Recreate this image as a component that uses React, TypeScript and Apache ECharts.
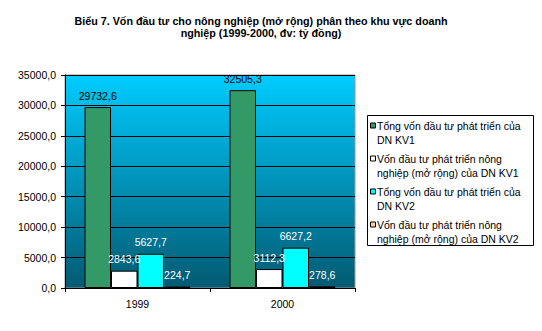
import React, { useEffect, useRef } from "react";
import * as echarts from "echarts";

const categories = ["1999", "2000"];
const seriesNames = [
  "Tổng vốn đầu tư phát triển của DN KV1",
  "Vốn đầu tư phát triển nông nghiệp (mở rộng) của DN KV1",
  "Tổng vốn đầu tư phát triển của DN KV2",
  "Vốn đầu tư phát triển nông nghiệp (mở rộng) của DN KV2",
];
const legendLines = [
  ["Tổng vốn đầu tư phát triển của", "DN KV1"],
  ["Vốn đầu tư phát triển nông", "nghiệp (mở rộng) của DN KV1"],
  ["Tổng vốn đầu tư phát triển của", "DN KV2"],
  ["Vốn đầu tư phát triển nông", "nghiệp (mở rộng) của DN KV2"],
];
const totalKV1 = [29732.6, 32505.3];
const agriKV1 = [2843.6, 3112.3];
const totalKV2 = [5627.7, 6627.2];
const agriKV2 = [224.7, 278.6];
const seriesValues = [totalKV1, agriKV1, totalKV2, agriKV2];
const colors = ["#339966", "#FFFFFF", "#00FFFF", "#FFCC99"];
const labelColors = ["#000000", "#FFFFFF", "#FFFFFF", "#FFFFFF"];
const titleLines = [
  "Biểu 7. Vốn đầu tư cho nông nghiệp (mở rộng) phân theo khu vực doanh",
  "nghiệp (1999-2000, đv: tỷ đồng)",
];

const FONT = "Liberation Sans, Arial, sans-serif";
const fmt = (v: number) => v.toFixed(1).replace(".", ",");

export default function App() {
  const ref = useRef<HTMLDivElement>(null);
  useEffect(() => {
    document.body.style.margin = "0";
    if (!ref.current) return;
    const chart = echarts.init(ref.current, null, { renderer: "svg" });
    const legendX = 367;
    const legendY = 115;
    const legendGraphics: any[] = [
      {
        type: "rect",
        shape: { x: legendX + 0.5, y: legendY + 0.5, width: 166, height: 130 },
        style: { fill: "#fff", stroke: "#000", lineWidth: 1 },
      },
    ];
    legendLines.forEach((lines, i) => {
      const y0 = 126 + i * 33;
      legendGraphics.push({
        type: "rect",
        shape: { x: 370.5, y: y0 - 3, width: 5, height: 5 },
        style: { fill: colors[i], stroke: "#000", lineWidth: 1 },
      });
      legendGraphics.push({
        type: "text",
        x: 377,
        y: y0 - 6.5,
        style: {
          text: lines.join("\n"),
          font: `10.5px ${FONT}`,
          lineHeight: 13.5,
          fill: "#000",
          textAlign: "left",
          textVerticalAlign: "top",
        },
      });
    });
    chart.setOption({
      animation: false,
      textStyle: { fontFamily: FONT },
      grid: {
        left: 65,
        right: 187,
        top: 75,
        bottom: 43,
        show: true,
        borderColor: "#999",
        borderWidth: 1,
        backgroundColor: new echarts.graphic.LinearGradient(0, 0, 0, 1, [
          { offset: 0, color: "#00CCFF" },
          { offset: 1, color: "#035A72" },
        ]),
      },
      graphic: [
        {
          type: "text",
          x: 261,
          y: 15.5,
          style: {
            text: titleLines.join("\n"),
            font: `bold 10.75px ${FONT}`,
            lineHeight: 11.5,
            fill: "#000",
            textAlign: "center",
            textVerticalAlign: "top",
          },
        },
        ...legendGraphics,
      ],
      xAxis: {
        type: "category",
        data: categories,
        axisLine: { lineStyle: { color: "#000" } },
        axisTick: { show: true, length: 4, lineStyle: { color: "#000" } },
        axisLabel: { color: "#000", fontSize: 10.5, margin: 10, fontFamily: FONT },
      },
      yAxis: {
        type: "value",
        min: 0,
        max: 35000,
        interval: 5000,
        axisLine: { show: true, lineStyle: { color: "#000" } },
        axisTick: { show: true, length: 4, lineStyle: { color: "#000" } },
        splitLine: { lineStyle: { color: "#000", width: 1 } },
        axisLabel: {
          color: "#000",
          fontSize: 10.5,
          margin: 9,
          fontFamily: FONT,
          formatter: (v: number) => fmt(v),
        },
      },
      series: seriesValues.map((vals, i) => ({
        name: seriesNames[i],
        type: "bar",
        data: vals,
        barWidth: 26.5,
        barGap: "0%",
        itemStyle: { color: colors[i], borderColor: "#000", borderWidth: 1 },
        label: {
          show: true,
          position: "top",
          distance: 6,
          color: labelColors[i],
          fontSize: 10.5,
          fontFamily: FONT,
          formatter: (p: any) => fmt(p.value),
        },
      })),
    });
    return () => chart.dispose();
  }, []);
  return <div ref={ref} style={{ width: 542, height: 331 }} />;
}
